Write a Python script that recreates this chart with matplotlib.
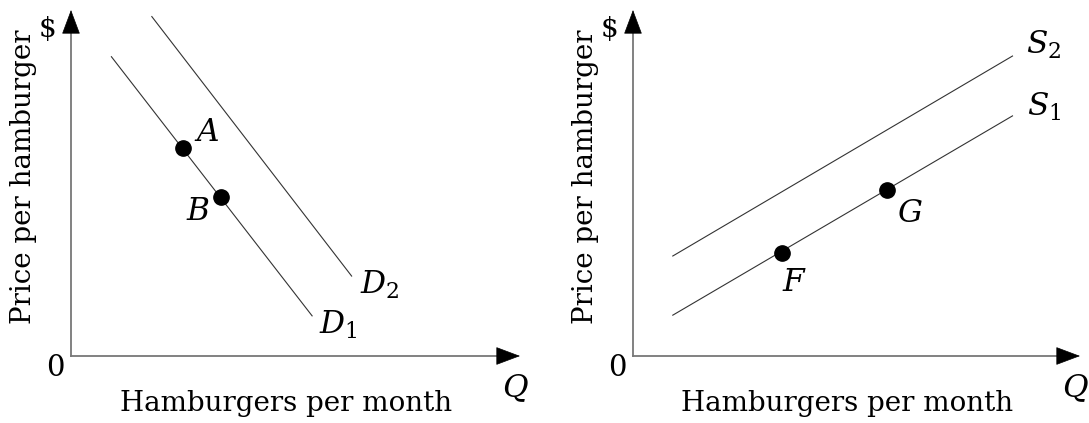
import matplotlib
matplotlib.use("Agg")
import matplotlib.pyplot as plt

plt.rcParams['font.family'] = ['DejaVu Serif']
plt.rcParams['mathtext.fontset'] = 'dejavuserif'

# demand curves (left panel), quantity vs price in arbitrary units
d1_q = [0.90, 5.37]
d1_p = [8.65, 1.16]
d2_q = [1.80, 6.25]
d2_p = [9.81, 2.31]
ab_q = [2.49, 3.34]
ab_p = [6.00, 4.60]
ab_names = ['A', 'B']

# supply curves (right panel)
s1_q = [0.89, 8.49]
s1_p = [1.18, 6.94]
s2_q = [0.89, 8.49]
s2_p = [2.89, 8.67]
fg_q = [3.34, 5.69]
fg_p = [2.98, 4.80]
fg_names = ['F', 'G']

x_title = 'Hamburgers per month'
y_title = 'Price per hamburger'

W, H = 1089, 423
fig = plt.figure(figsize=(W / 100, H / 100), dpi=100)
LBL = 22.5


def make_axes(x0, y0, x1, y1):
    # pixel box of the axis lines -> figure fraction
    ax = fig.add_axes([x0 / W, (H - y0) / H, (x1 - x0) / W, (y0 - y1) / H])
    ax.set_xlim(0, 10)
    ax.set_ylim(0, 10)
    ax.axis('off')
    ax.plot([0, 9.6], [0, 0], color='#777777', lw=1.3, clip_on=False)
    ax.plot([0, 0], [0, 9.4], color='#777777', lw=1.3, clip_on=False)
    ax.annotate('', xy=(10, 0), xytext=(9.5, 0),
                arrowprops=dict(arrowstyle='-|>,head_length=1.6,head_width=0.6',
                                color='black', lw=0.5, shrinkA=0, shrinkB=0),
                annotation_clip=False)
    ax.annotate('', xy=(0, 10), xytext=(0, 9.35),
                arrowprops=dict(arrowstyle='-|>,head_length=1.6,head_width=0.6',
                                color='black', lw=0.5, shrinkA=0, shrinkB=0),
                annotation_clip=False)
    ax.text(-0.35, -0.35, '0', fontsize=21, ha='center', va='center')
    ax.text(-0.52, 9.45, '$', fontsize=20, ha='center', va='center')
    ax.text(9.88, -0.92, 'Q', fontsize=LBL, style='italic', ha='center', va='center')
    ax.text(4.79, -1.36, x_title, fontsize=20, ha='center', va='center')
    ax.text(-1.06, 5.17, y_title, fontsize=20, ha='center', va='center', rotation=90)
    return ax


ax1 = make_axes(71, 356, 520, 10)
ax1.plot(d1_q, d1_p, color='#333333', lw=0.8)
ax1.plot(d2_q, d2_p, color='#333333', lw=0.8)
ax1.plot(ab_q, ab_p, 'o', color='black', ms=11)
ax1.text(ab_q[0] + 0.56, ab_p[0] + 0.45, ab_names[0], fontsize=LBL, style='italic',
         ha='center', va='center')
ax1.text(ab_q[1] - 0.52, ab_p[1] - 0.43, ab_names[1], fontsize=LBL, style='italic',
         ha='center', va='center')
ax1.text(d2_q[1] + 0.62, d2_p[1] - 0.26, '$D_2$', fontsize=LBL, ha='center', va='center')
ax1.text(d1_q[1] + 0.58, d1_p[1] - 0.26, '$D_1$', fontsize=LBL, ha='center', va='center')

ax2 = make_axes(633, 356, 1080, 10)
ax2.plot(s1_q, s1_p, color='#333333', lw=0.8)
ax2.plot(s2_q, s2_p, color='#333333', lw=0.8)
ax2.plot(fg_q, fg_p, 'o', color='black', ms=11)
ax2.text(fg_q[0] + 0.24, fg_p[0] - 0.87, fg_names[0], fontsize=LBL, style='italic',
         ha='center', va='center')
ax2.text(fg_q[1] + 0.51, fg_p[1] - 0.67, fg_names[1], fontsize=LBL, style='italic',
         ha='center', va='center')
ax2.text(s2_q[1] + 0.70, s2_p[1] + 0.32, '$S_2$', fontsize=LBL, ha='center', va='center')
ax2.text(s1_q[1] + 0.70, s1_p[1] + 0.26, '$S_1$', fontsize=LBL, ha='center', va='center')

fig.savefig('out.png', dpi=100, facecolor='white')
